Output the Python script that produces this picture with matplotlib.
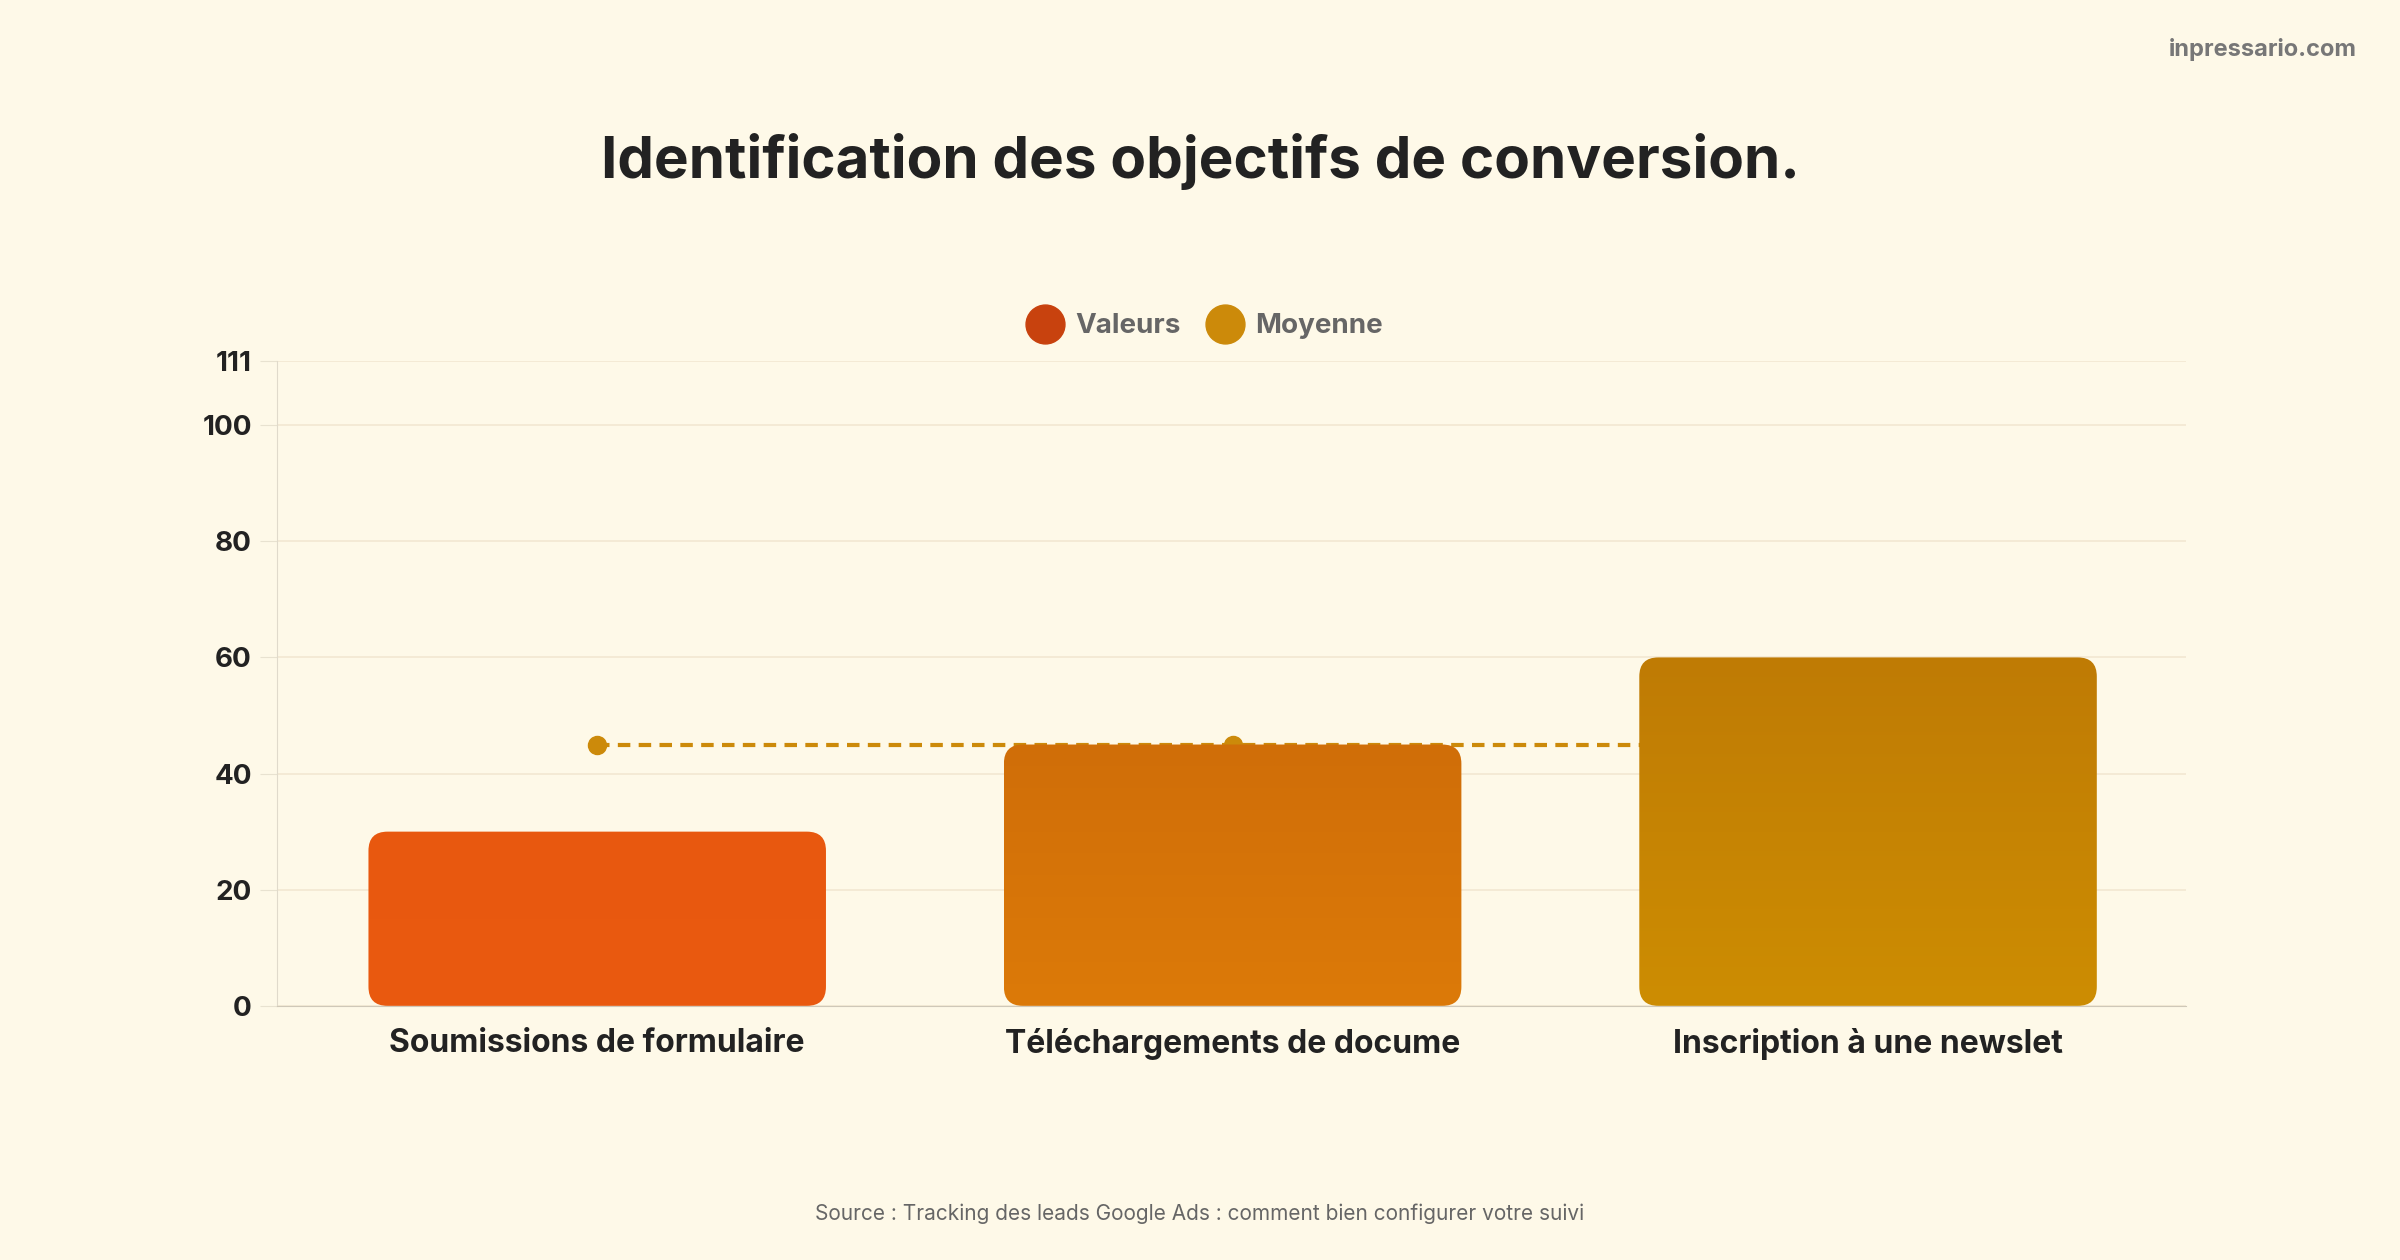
import numpy as np
import matplotlib.pyplot as plt
from matplotlib.patches import FancyBboxPatch
from matplotlib.lines import Line2D
from matplotlib.colors import LinearSegmentedColormap

plt.rcParams['font.family'] = ['Inter', 'DejaVu Sans']

categories = ["Soumissions de formulaire", "Téléchargements de docume", "Inscription à une newslet"]
values = [30, 45, 60]
average = [45, 45, 45]
bar_top_colors = ["#E8580F", "#D06E08", "#BF7B05"]
bar_bottom_colors = ["#EA5A10", "#DC7A08", "#CD8D02"]
yticks = [0, 20, 40, 60, 80, 100, 111]

BG = "#FEF9E8"
fig = plt.figure(figsize=(24, 12.6), dpi=100, facecolor=BG)
ax = fig.add_axes([0.1154, 0.2017, 0.7956, 0.5116], facecolor=BG)

x = np.arange(len(categories))
ax.set_xlim(-0.504, 2.501)
ax.set_ylim(0, 111)
width = 0.72

# average line below bars
ax.plot(x, average, color="#CC8A0A", lw=3, ls=(0, (3, 2)), marker="o", ms=13, zorder=1.5)

aspect = (111 / 421) * 415
for i, v in enumerate(values):
    patch = FancyBboxPatch((x[i] - width / 2, 0), width, v,
                           boxstyle="round,pad=0,rounding_size=0.03",
                           mutation_aspect=aspect, lw=0, facecolor="none", zorder=2)
    ax.add_patch(patch)
    cmap = LinearSegmentedColormap.from_list("g", [bar_bottom_colors[i], bar_top_colors[i]])
    grad = np.linspace(0, 1, 256).reshape(-1, 1)
    im = ax.imshow(grad, cmap=cmap, origin="lower", aspect="auto",
                   extent=(x[i] - width / 2, x[i] + width / 2, 0, v), zorder=2)
    im.set_clip_path(patch)

ax.set_yticks(yticks)
ax.set_yticklabels([str(t) for t in yticks], fontsize=20, fontweight="bold", color="#222222")
ax.set_xticks(x)
ax.set_xticklabels(categories, fontsize=23, fontweight="bold", color="#222222")
ax.tick_params(axis="y", length=12, color="#E8E2D0", pad=6)
ax.tick_params(axis="x", length=0, pad=16)
ax.grid(axis="y", color="#F2E8D2", lw=1.2, zorder=0)
ax.set_axisbelow(True)
for s in ["top", "right"]:
    ax.spines[s].set_visible(False)
ax.spines["left"].set_color("#E0DACB")
ax.spines["bottom"].set_color("#CFC8B8")

handles = [Line2D([], [], marker="o", ls="", ms=28, color="#C8420E"),
           Line2D([], [], marker="o", ls="", ms=28, color="#CC8A0A")]
fig.legend(handles, ["Valeurs", "Moyenne"], loc="center", bbox_to_anchor=(0.5, 0.741),
           ncol=2, frameon=False, handletextpad=0.1, columnspacing=0.6,
           prop={"size": 20, "weight": "bold"}, labelcolor="#666666")

fig.text(0.5, 0.872, "Identification des objectifs de conversion.", ha="center", va="center",
         fontsize=42, fontweight="bold", color="#222222")
fig.text(0.982, 0.961, "inpressario.com", ha="right", va="center", fontsize=17,
         fontweight="bold", color="#777777")
fig.text(0.5, 0.037, "Source : Tracking des leads Google Ads : comment bien configurer votre suivi",
         ha="center", va="center", fontsize=15, color="#666666")

fig.savefig("out.png", dpi=100, facecolor=BG)
